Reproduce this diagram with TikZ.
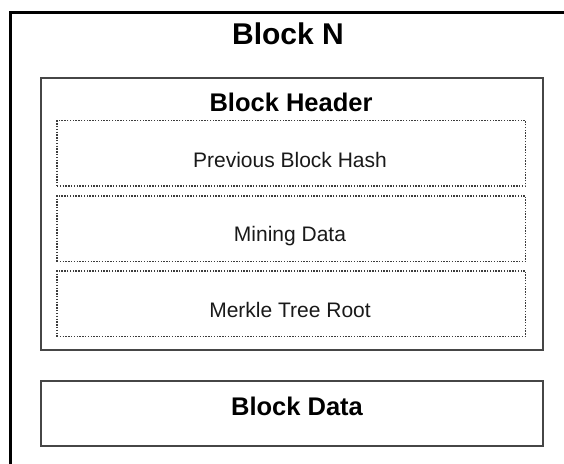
\documentclass[tikz,border=0pt]{standalone}
\usepackage{fontspec}
\setmainfont{Liberation Sans}
\definecolor{framegray}{RGB}{70,70,70}
\definecolor{dotgray}{RGB}{60,60,60}
\begin{document}
\begin{tikzpicture}[x=1pt,y=-1pt,
  outerframe/.style={draw=black, line width=3pt, rectangle, inner sep=0pt, outer sep=0pt, anchor=north west},
  panel/.style={draw=framegray, line width=2pt, rectangle, inner sep=0pt, outer sep=0pt, anchor=north west, minimum width=502.5pt},
  field/.style={draw=dotgray, line width=1.3pt, dash pattern=on 1.4pt off 1.4pt, rectangle, inner sep=0pt, outer sep=0pt, anchor=north west, minimum width=468.5pt, minimum height=65.5pt},
  bigtitle/.style={anchor=base, inner sep=0pt, font=\bfseries\fontsize{30}{34}\selectfont},
  title/.style={anchor=base, inner sep=0pt, font=\bfseries\fontsize{25.5}{30}\selectfont},
  fieldtext/.style={anchor=base, inner sep=0pt, text=black!90, font=\fontsize{21}{25}\selectfont}
]
\useasboundingbox (0,0) rectangle (564,463);
\clip (0,0) rectangle (564,463);

% the block itself, running past the visible area
\node[outerframe, minimum width=700pt, minimum height=600pt] (block) at (10,12) {};
\node[bigtitle] (blockname) at (288,44) {Block N};

% header panel and its three fields
\node[panel, minimum height=272.5pt] (header) at (40.5,77.5) {};
\node[title] (headername) at (291,111) {Block Header};

\node[field] (prevbox) at (57,120.5) {};
\node[fieldtext] (prevtext) at (290,167) {Previous Block Hash};

\node[field] (minebox) at (57,196) {};
\node[fieldtext] (minetext) at (290,241) {Mining Data};

\node[field] (merklebox) at (57,271) {};
\node[fieldtext] (merkletext) at (290,317) {Merkle Tree Root};

% data panel
\node[panel, minimum height=64.5pt] (data) at (40.5,381) {};
\node[title] (dataname) at (297,415) {Block Data};
\end{tikzpicture}
\end{document}
